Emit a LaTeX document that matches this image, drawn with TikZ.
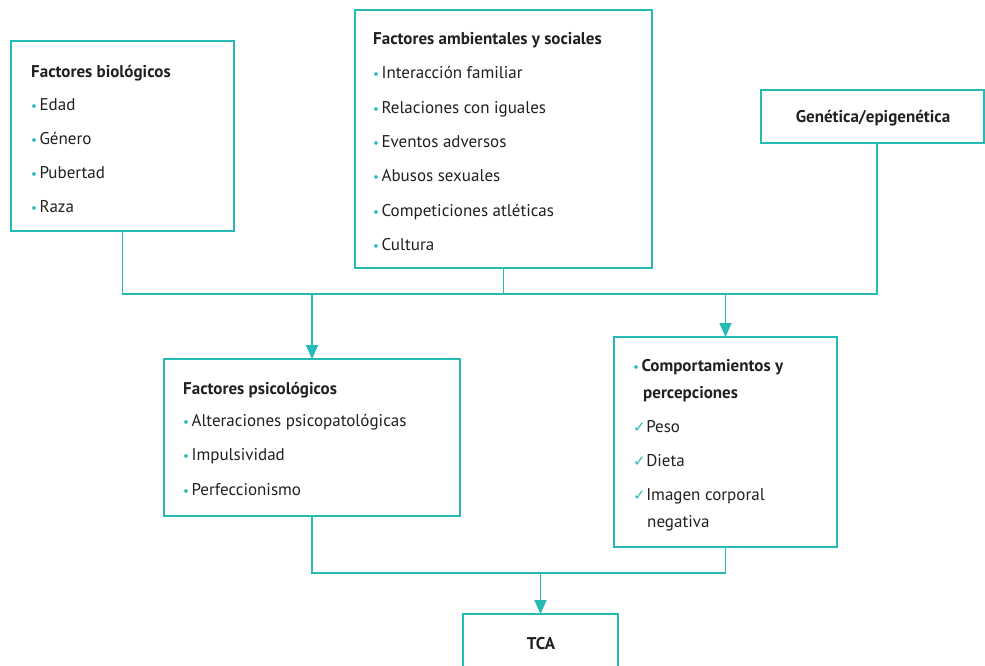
\documentclass[tikz,border=0pt]{standalone}
\usepackage{fontspec}
\setmainfont{PT Sans}
\newfontfamily\symfont{DejaVu Sans}
\usetikzlibrary{arrows.meta}
\definecolor{tl}{RGB}{38,186,181}
\definecolor{tx}{RGB}{35,31,32}
\newcommand\bul{{\color{tl}\fontsize{13}{13}\selectfont•}\hspace{2.5pt}}
\newcommand\chk{{\color{tl}\symfont\fontsize{15}{15}\selectfont ✓}\hspace{0.5pt}}
\begin{document}
\begin{tikzpicture}[x=1pt,y=-1pt,
  box/.style={draw=tl,line width=1.7pt,inner sep=0pt,outer sep=0pt,anchor=north west},
  lbl/.style={anchor=base west,inner sep=0pt,text=tx,font=\fontsize{17}{20}\selectfont},
  ttl/.style={anchor=base west,inner sep=0pt,text=tx,font=\fontsize{17}{20}\selectfont\bfseries},
  conn/.style={draw=tl,line width=1.7pt},
  arr/.style={conn,-{Triangle[width=12pt,length=14pt]}}]
\useasboundingbox (0,0) rectangle (985,665);
% boxes
\node[box,minimum width=223pt,minimum height=190pt] (bio) at (11,41) {};
\node[box,minimum width=297pt,minimum height=258pt] (amb) at (355,10) {};
\node[box,minimum width=223pt,minimum height=53pt] (gen) at (761,90) {};
\node[box,minimum width=296pt,minimum height=157pt] (psi) at (164,359) {};
\node[box,minimum width=223pt,minimum height=210pt] (comp) at (614,337) {};
\node[box,minimum width=155pt,minimum height=80pt] (tca) at (463,614) {};
% texts: biologicos
\node[ttl] (b0) at (31,77) {Factores biológicos};
\node[lbl] (b1) at (31,110) {\bul Edad};
\node[lbl] (b2) at (31,144) {\bul Género};
\node[lbl] (b3) at (31,178) {\bul Pubertad};
\node[lbl] (b4) at (31,212) {\bul Raza};
% ambientales
\node[ttl] (a0) at (373,44) {Factores ambientales y sociales};
\node[lbl] (a1) at (373,78) {\bul Interacción familiar};
\node[lbl] (a2) at (373,113) {\bul Relaciones con iguales};
\node[lbl] (a3) at (373,147) {\bul Eventos adversos};
\node[lbl] (a4) at (373,181) {\bul Abusos sexuales};
\node[lbl] (a5) at (373,216) {\bul Competiciones atléticas};
\node[lbl] (a6) at (373,250) {\bul Cultura};
% genetica
\node[anchor=base,inner sep=0pt,text=tx,font=\fontsize{17}{20}\selectfont\bfseries] (g0) at (873,122) {Genética/epigenética};
% psicologicos
\node[ttl] (p0) at (183,394) {Factores psicológicos};
\node[lbl] (p1) at (183,426) {\bul Alteraciones psicopatológicas};
\node[lbl] (p2) at (183,460) {\bul Impulsividad};
\node[lbl] (p3) at (183,495) {\bul Perfeccionismo};
% comportamientos
\node[lbl] (c0) at (633,371) {\bul\textbf{Comportamientos y}};
\node[ttl] (c1) at (643,398) {percepciones};
\node[lbl] (c2) at (633,432) {\chk Peso};
\node[lbl] (c3) at (633,466) {\chk Dieta};
\node[lbl] (c4) at (633,500) {\chk Imagen corporal};
\node[lbl] (c5) at (647,527) {negativa};
% tca
\node[anchor=base,inner sep=0pt,text=tx,font=\fontsize{17}{20}\selectfont\bfseries] (t0) at (541,649) {TCA};
% connectors
\coordinate (hubR) at (877,294);
\coordinate (low) at (312,573);
\draw[conn] (bio.south) |- (hubR) -- (hubR |- gen.south);
\draw[conn] (amb.south) -- (amb.south |- hubR);
\draw[arr] (psi.north |- hubR) -- (psi.north);
\draw[arr] (comp.north |- hubR) -- (comp.north);
\draw[conn] (psi.south) |- (comp.south |- low) -- (comp.south);
\draw[arr] (tca.north |- low) -- (tca.north);
\end{tikzpicture}
\end{document}
